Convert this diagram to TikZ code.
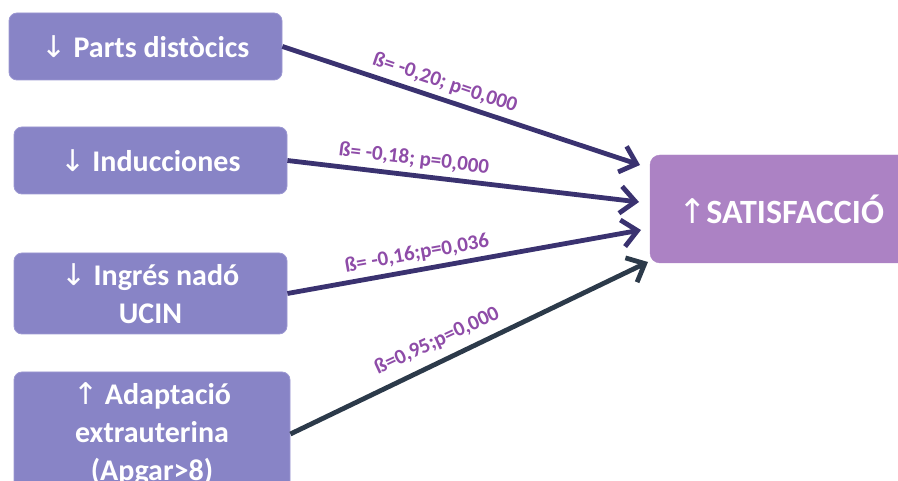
\documentclass[tikz,border=0pt]{standalone}
\usepackage{fontspec}
\setmainfont{Carlito}
\newfontfamily\arrowfont{DejaVu Sans}
\usetikzlibrary{arrows.meta}
\definecolor{srcfill}{HTML}{8884C6}
\definecolor{srcline}{HTML}{9C98D2}
\definecolor{tgtfill}{HTML}{AC82C4}
\definecolor{linkcol}{HTML}{3A3270}
\definecolor{linkdark}{HTML}{2C3A4A}
\definecolor{coefcol}{HTML}{8E4CA8}
\tikzset{
  srcbox/.style={fill=srcfill, draw=srcline, line width=0.8pt, rounded corners=8pt,
    text=white, font=\fontsize{30}{38}\selectfont\bfseries, align=center, inner sep=0pt},
  tgtbox/.style={fill=tgtfill, draw=tgtfill, rounded corners=10pt, text=white,
    font=\fontsize{34}{40}\selectfont\bfseries, align=center, inner sep=0pt},
  link/.style={draw=linkcol, line width=4.8pt,
    -{Straight Barb[length=15pt, width=27pt]}},
  coef/.style={text=coefcol, font=\fontsize{21}{24}\selectfont\bfseries, inner sep=0pt}
}
\begin{document}
\begin{tikzpicture}[x=1pt, y=-1pt]
\useasboundingbox (0,0) rectangle (898,481);

% predictor boxes
\node[srcbox, minimum width=273, minimum height=67] (b1) at (145.5,46.5)
  {{\arrowfont\mdseries ↓} Parts distòcics};
\node[srcbox, minimum width=273, minimum height=67] (b2) at (150.5,160.5)
  {{\arrowfont\mdseries ↓} Inducciones};
\node[srcbox, minimum width=273, minimum height=81] (b3) at (150.5,293.5)
  {{\arrowfont\mdseries ↓} Ingrés nadó\\UCIN};
\node[srcbox, minimum width=276, minimum height=124] (b4) at (152,434)
  {{\arrowfont\mdseries ↑} Adaptació\\extrauterina\\(Apgar>8)};

% outcome box
\node[tgtbox, minimum width=262, minimum height=108] (t) at (781,209)
  {{\arrowfont\mdseries ↑}SATISFACCIÓ};

% arrow end points in front of the outcome box
\coordinate (e1) at (640,165);
\coordinate (e2) at (639,202);
\coordinate (e3) at (641,230);
\coordinate (e4) at (648,262);

\draw[link] (b1.east) -- (e1);
\draw[link] (b2.east) -- (e2);
\draw[link] (b3.east) -- (e3);
\draw[link, draw=linkdark] (b4.east) -- (e4);

% regression coefficients
\node[coef, rotate=-18.5] (c1) at (445,83) {ß= -0,20; p=0,000};
\node[coef, rotate=-6.8] (c2) at (414,159) {ß= -0,18; p=0,000};
\node[coef, rotate=10.2] (c3) at (417,254) {ß= -0,16;p=0,036};
\node[coef, rotate=25] (c4) at (437,341) {ß=0,95;p=0,000};
\end{tikzpicture}
\end{document}
